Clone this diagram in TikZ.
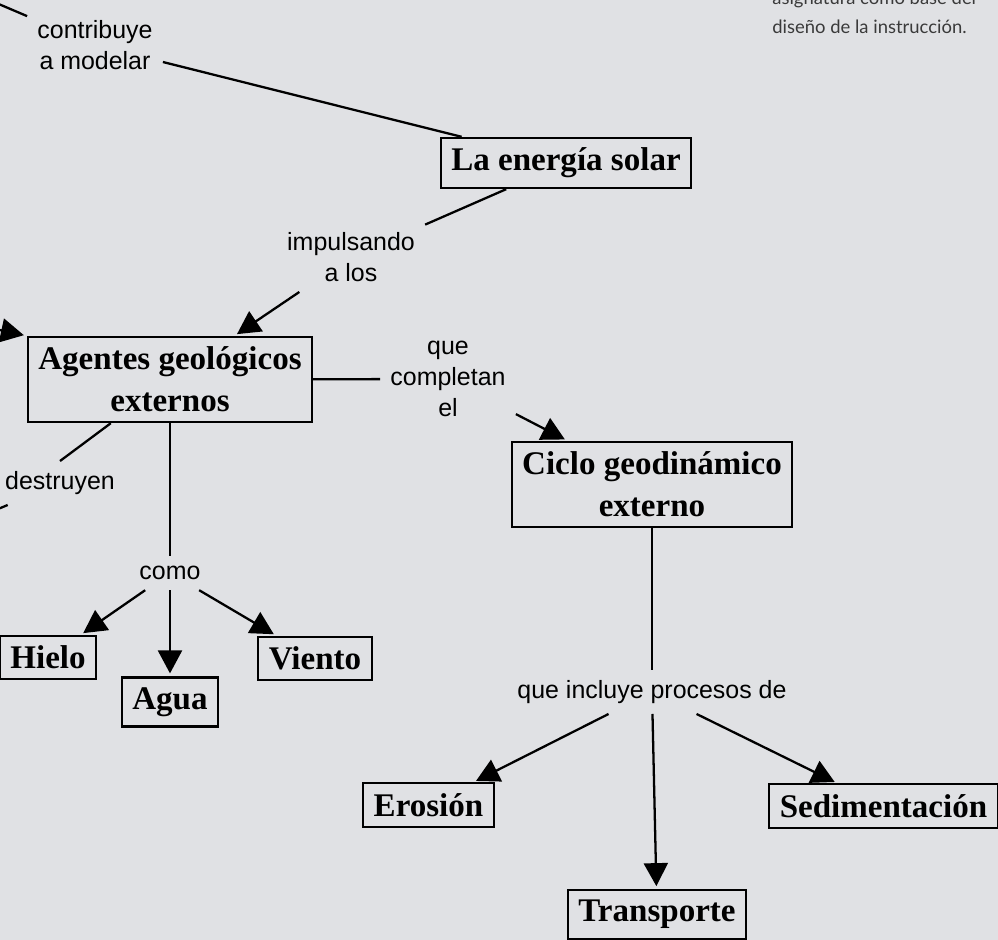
\documentclass[tikz,border=0pt]{standalone}
\usepackage{fontspec}
\setmainfont{Liberation Serif}
\newfontfamily\labelfont{Liberation Sans}
\newfontfamily\notefont{Lato}
\usetikzlibrary{arrows.meta}
\definecolor{paper}{RGB}{224,225,228}
\definecolor{notegray}{RGB}{58,58,58}

\begin{document}
\begin{tikzpicture}[x=0.02cm, y=-0.02cm,
		conceptbox/.style={draw, line width=1.2pt, align=center, inner xsep=0.21cm, inner ysep=0.2cm,
			font=\fontsize{18.8}{23.9}\selectfont\bfseries},
		linklabel/.style={align=center, inner sep=0.2cm, font=\labelfont\fontsize{14.2}{17.6}\selectfont},
		link/.style={line width=1.3pt},
		linkarrow/.style={link, -{Triangle[length=0.46cm, width=0.48cm]}, shorten >=0.06cm}]
		
		\useasboundingbox (0,0) rectangle (998,940);
		\clip (0,0) rectangle (998,940);
		\fill[paper] (0,0) rectangle (998,940);
		
		% Define note
		\node[anchor=south west, inner sep=0pt, align=left, text=notegray,
			font=\notefont\fontsize{10.5}{16.4}\selectfont] (NoteText) at (772,34) {asignatura como base del\\diseño de la instrucción.};
		
		% Define concepts
		\node[conceptbox] (NodeEnergia) at (566,163) {La energía solar};
		\node[conceptbox] (NodeAgentes) at (170,379.5) {Agentes geológicos\\externos};
		\node[conceptbox] (NodeCiclo) at (652,484.5) {Ciclo geodinámico\\externo};
		\node[conceptbox] (NodeHielo) at (48,657.5) {Hielo};
		\node[conceptbox] (NodeAgua) at (170,702) {Agua};
		\node[conceptbox] (NodeViento) at (315,658.5) {Viento};
		\node[conceptbox] (NodeErosion) at (428.5,805) {Erosión};
		\node[conceptbox] (NodeSedimentacion) at (883.5,806) {Sedimentación};
		\node[conceptbox] (NodeTransporte) at (657,914.5) {Transporte};
		
		% Define link words
		\node[linklabel] (LabelContribuye) at (95,45) {contribuye\\a modelar};
		\node[linklabel] (LabelImpulsando) at (351,257) {impulsando\\a los};
		\node[linklabel] (LabelCompletan) at (448,379) {que\\completan\\el};
		\node[linklabel] (LabelDestruyen) at (60,483) {destruyen};
		\node[linklabel] (LabelComo) at (170,573) {como};
		\node[linklabel] (LabelProcesos) at (652,692) {que incluye procesos de};
		
		% Ends outside the frame
		\coordinate (OffTop) at (-60,-21);
		\coordinate (OffLeft) at (-80,313);
		\coordinate (OffBottom) at (-40,525);
		
		\draw[link] (OffTop) -- (LabelContribuye);
		\draw[link] (LabelContribuye) -- (NodeEnergia);
		\draw[link] (NodeEnergia) -- (LabelImpulsando);
		\draw[linkarrow] (LabelImpulsando) -- (NodeAgentes);
		\draw[linkarrow] (OffLeft) -- (NodeAgentes.north west);
		\draw[link] (NodeAgentes) -- (LabelCompletan);
		\draw[linkarrow] (LabelCompletan) -- (NodeCiclo);
		\draw[link] (NodeAgentes.south west) ++(84,0) -- (LabelDestruyen.north);
		\draw[link] (LabelDestruyen) -- (OffBottom);
		
		% Agents
		\draw[link] (NodeAgentes) -- (LabelComo);
		\foreach \target in {NodeHielo, NodeAgua, NodeViento}
			\draw[linkarrow] (LabelComo) -- (\target);
		
		% Processes
		\draw[link] (NodeCiclo) -- (LabelProcesos);
		\foreach \target in {NodeErosion, NodeTransporte, NodeSedimentacion}
			\draw[linkarrow] (LabelProcesos) -- (\target);
	\end{tikzpicture}
\end{document}
